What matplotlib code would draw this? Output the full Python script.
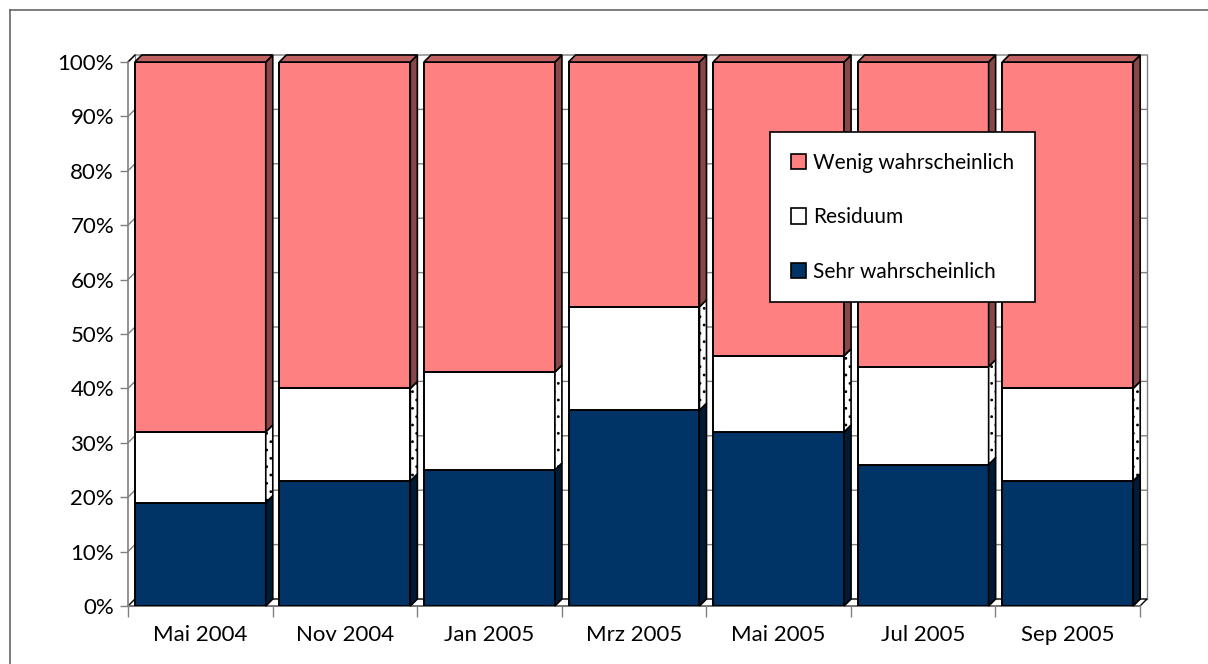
import matplotlib
matplotlib.use("Agg")
import matplotlib.pyplot as plt
from matplotlib.patches import Polygon, Patch
from matplotlib.lines import Line2D

# Survey results per wave (percent, stacked to 100)
categories = ["Mai 2004", "Nov 2004", "Jan 2005", "Mrz 2005", "Mai 2005", "Jul 2005", "Sep 2005"]
sehr = [19, 23, 25, 36, 32, 26, 23]
residuum = [13, 17, 18, 19, 14, 18, 17]
wenig = [68, 60, 57, 45, 54, 56, 60]
y_ticks = list(range(0, 101, 10))
y_labels = [f"{v}%" for v in y_ticks]

series = [
    # label, values, front colour, side colour, side hatch
    ("Sehr wahrscheinlich", sehr, "#003366", "#001b36", None),
    ("Residuum", residuum, "#ffffff", "#ffffff", ".."),
    ("Wenig wahrscheinlich", wenig, "#ff8080", "#884848", None),
]
top_colour = "#c06262"

FONT = ["Lato", "DejaVu Sans"]
plt.rcParams["font.family"] = FONT
plt.rcParams["hatch.linewidth"] = 0.8

W, H = 1208, 664
fig = plt.figure(figsize=(W / 100, H / 100), dpi=100)
ax = fig.add_axes([128 / W, 58 / H, 1012 / W, 544 / H])
ax.set_xlim(-0.5, len(categories) - 0.5)
ax.set_ylim(0, 100)
for s in ax.spines.values():
    s.set_visible(False)

# depth of the pseudo-3D effect, 7 px right and up
fig.canvas.draw()
bb = ax.get_window_extent()
dx = 7 / (bb.width / len(categories))
dy = 7 / (bb.height / 100)

x0, x1 = -0.5, len(categories) - 0.5
grid_c = "#808080"

# back wall, left wall and floor
for v in y_ticks[1:]:
    ax.plot([x0, x0 + dx, x1 + dx], [v, v + dy, v + dy], color=grid_c, lw=1.0,
            zorder=0.5, clip_on=False)
ax.plot([x1 + dx, x1 + dx], [dy, 100 + dy], color=grid_c, lw=1.0, zorder=0.5, clip_on=False)
ax.plot([x0 + dx, x0 + dx], [dy, 100 + dy], color=grid_c, lw=0.8, zorder=0.5, clip_on=False)
floor = Polygon([(x0, 0), (x1, 0), (x1 + dx, dy), (x0 + dx, dy)], closed=True,
                facecolor="white", edgecolor="black", lw=1.0, zorder=0.6, clip_on=False)
ax.add_patch(floor)
ax.plot([x0, x0 + dx], [100, 100 + dy], color="black", lw=1.0, zorder=0.6, clip_on=False)
ax.plot([x0, x0], [0, 100], color=grid_c, lw=1.2, zorder=0.7, clip_on=False)
ax.plot([x0, x1], [0, 0], color=grid_c, lw=1.2, zorder=0.7, clip_on=False)

width = 0.906
xs = list(range(len(categories)))
bottoms = [0] * len(categories)
handles = []
for label, vals, front, side, hatch in series:
    ax.bar(xs, vals, width=width, bottom=bottoms, color=front, edgecolor="black",
           linewidth=1.4, zorder=2)
    for i, (x, v, b) in enumerate(zip(xs, vals, bottoms)):
        xr = x + width / 2
        poly = Polygon([(xr, b), (xr, b + v), (xr + dx, b + v + dy), (xr + dx, b + dy)],
                       closed=True, facecolor=side, edgecolor="black", lw=1.2,
                       hatch=hatch, zorder=2.5, clip_on=False)
        ax.add_patch(poly)
    handles.append(Patch(facecolor=front, edgecolor="black", linewidth=1.2, label=label))
    bottoms = [b + v for b, v in zip(bottoms, vals)]

# top faces of the stacks
for x, t in zip(xs, bottoms):
    xl, xr = x - width / 2, x + width / 2
    ax.add_patch(Polygon([(xl, t), (xr, t), (xr + dx, t + dy), (xl + dx, t + dy)],
                         closed=True, facecolor=top_colour, edgecolor="black", lw=1.2,
                         zorder=3, clip_on=False))

# axes ticks and labels
ax.set_yticks(y_ticks)
ax.set_yticklabels(y_labels, fontsize=16)
ax.tick_params(axis="y", length=6, width=1.0, color=grid_c, pad=4)
ax.set_xticks(xs)
ax.set_xticklabels(categories, fontsize=16)
ax.set_xticks([x - 0.5 for x in range(len(categories) + 1)], minor=True)
ax.tick_params(axis="x", which="major", length=0, pad=14)
ax.tick_params(axis="x", which="minor", length=8, width=1.0, color=grid_c)

leg = ax.legend(handles=handles[::-1], loc="upper left",
                bbox_to_anchor=(770 / W, 1 - 132 / H), bbox_transform=fig.transFigure,
                borderaxespad=0, frameon=True, fancybox=False, framealpha=1,
                fontsize=15, handlelength=0.75, handleheight=0.75, handletextpad=0.3,
                labelspacing=1.65, borderpad=1.0)
leg.get_frame().set_edgecolor("black")
leg.get_frame().set_linewidth(1.2)
leg.set_zorder(10)

# outer chart frame
fig.add_artist(Line2D([10 / W, 10 / W], [0, 1 - 10 / H], transform=fig.transFigure,
                      color="#666666", lw=1.2))
fig.add_artist(Line2D([10 / W, 1], [1 - 10 / H, 1 - 10 / H], transform=fig.transFigure,
                      color="#666666", lw=1.2))

fig.savefig("out.png", dpi=100)
